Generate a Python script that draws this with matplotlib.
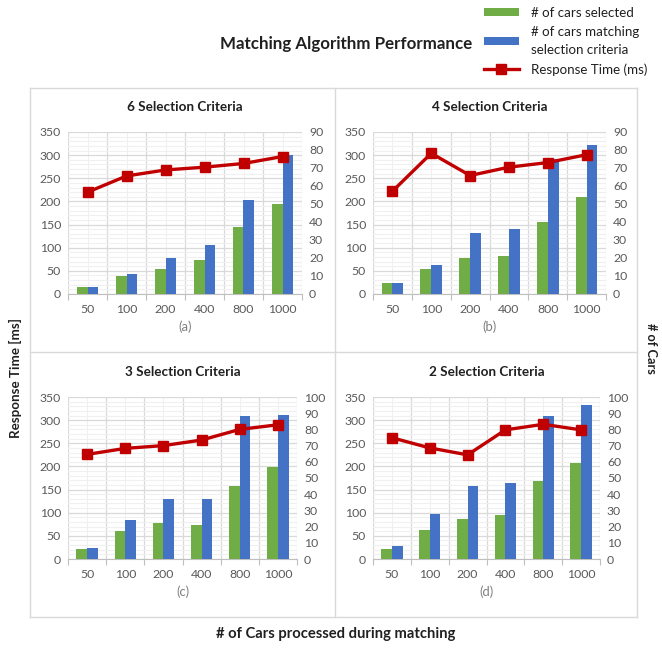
import matplotlib
matplotlib.use("Agg")
import matplotlib.pyplot as plt
import numpy as np
from matplotlib.ticker import FixedLocator, MultipleLocator
from matplotlib.lines import Line2D

plt.rcParams['font.family'] = ['Lato', 'DejaVu Sans']

cars = ['50', '100', '200', '400', '800', '1000']

# response time (ms) and car counts for each panel
resp_6 = [220, 255, 268, 274, 282, 297]
sel_6 = [4, 10, 14, 19, 37, 50]
match_6 = [4, 11, 20, 27, 52, 77]

resp_4 = [222, 304, 256, 274, 284, 301]
sel_4 = [6, 14, 20, 21, 40, 54]
match_4 = [6, 16, 34, 36, 75, 83]

resp_3 = [226, 239, 245, 257, 280, 290]
sel_3 = [6, 17, 22, 21, 45, 57]
match_3 = [7, 24, 37, 37, 88, 89]

resp_2 = [262, 240, 225, 279, 291, 279]
sel_2 = [6, 18, 25, 27, 48, 59]
match_2 = [8, 28, 45, 47, 88, 95]

GREEN = '#70AD47'
BLUE = '#4472C4'
RED = '#C00000'
TXT = '#595959'

W, H = 662, 650
fig = plt.figure(figsize=(W / 100, H / 100), dpi=100)


def box(x0, y0, x1, y1):
    # pixel box -> figure fraction [left, bottom, width, height]
    return [x0 / W, 1 - y1 / H, (x1 - x0) / W, (y1 - y0) / H]


def panel(rect, title, tag, resp, sel, match, rmax):
    ax = fig.add_axes(rect)
    x = np.arange(len(cars))
    ax.set_xlim(-0.5, len(cars) - 0.5)
    ax.set_ylim(0, 350)
    ax.yaxis.set_major_locator(MultipleLocator(50))
    ax.yaxis.set_minor_locator(MultipleLocator(10))
    ax.set_xticks(x)
    ax.set_xticklabels(cars)
    ax.xaxis.set_minor_locator(FixedLocator(np.arange(-0.5, len(cars), 1.0)))
    ax.grid(which='major', axis='y', color='#d9d9d9', lw=0.9)
    ax.grid(which='minor', axis='y', color='#f0f0f0', lw=0.8)
    ax.grid(which='minor', axis='x', color='#d9d9d9', lw=0.9)
    ax.grid(which='major', axis='x', color='#f0f0f0', lw=0.8)
    ax.set_axisbelow(True)
    ax.tick_params(axis='y', which='both', length=0, labelsize=8.8, labelcolor=TXT, pad=5)
    ax.tick_params(axis='x', which='major', length=0, labelsize=8.8, labelcolor=TXT, pad=7)
    ax.tick_params(axis='x', which='minor', length=4, color='#bfbfbf', width=0.8)
    for s in ['left', 'right', 'top']:
        ax.spines[s].set_visible(False)
    ax.spines['bottom'].set_color('#bfbfbf')
    ax.set_title(title, fontsize=9.7, fontweight='bold', color='#202020', pad=15)
    ax.set_xlabel(tag, fontsize=9.4, color='#7f7f7f', labelpad=4)

    ax2 = ax.twinx()
    w = 0.28
    ax2.bar(x - w / 2, sel, w, color=GREEN, label='# of cars selected')
    ax2.bar(x + w / 2, match, w, color=BLUE, label='# of cars matching\nselection criteria')
    ax2.set_ylim(0, rmax)
    ax2.yaxis.set_major_locator(MultipleLocator(10))
    ax2.tick_params(axis='y', length=0, labelsize=8.8, labelcolor=TXT, pad=5)
    for s in ax2.spines.values():
        s.set_visible(False)

    ax3 = ax.twinx()
    ax3.set_ylim(0, 350)
    ax3.plot(x, resp, color=RED, lw=2.4, marker='s', markersize=7,
             label='Response Time (ms)')
    ax3.axis('off')
    return ax2, ax3


ax2a, ax3a = panel(box(68, 132, 302, 294), '6 Selection Criteria', '(a)', resp_6, sel_6, match_6, 90)
panel(box(373, 132, 606, 294), '4 Selection Criteria', '(b)', resp_4, sel_4, match_4, 90)
panel(box(68, 397, 297, 559), '3 Selection Criteria', '(c)', resp_3, sel_3, match_3, 100)
panel(box(373, 397, 600, 559), '2 Selection Criteria', '(d)', resp_2, sel_2, match_2, 100)

# panel frames
gc = '#d9d9d9'
for (xa, ya, xb, yb) in [(30, 88, 637, 88), (30, 617, 637, 617), (30, 88, 30, 617),
                         (637, 88, 637, 617), (335, 88, 335, 617), (30, 352, 637, 352)]:
    fig.add_artist(Line2D([xa / W, xb / W], [1 - ya / H, 1 - yb / H], color=gc, lw=1.0))

fig.text(346 / W, 1 - 44 / H, 'Matching Algorithm Performance', fontsize=12.2,
         fontweight='bold', ha='center', va='center', color='#202020')
fig.text(15 / W, 1 - 378 / H, 'Response Time [ms]', fontsize=9.6, fontweight='bold',
         rotation=90, ha='center', va='center', color='#202020')
fig.text(651 / W, 1 - 348 / H, '# of Cars', fontsize=9.2, fontweight='bold',
         rotation=-90, ha='center', va='center', color='#202020')
fig.text(336 / W, 1 - 634 / H, '# of Cars processed during matching', fontsize=10.6,
         fontweight='bold', ha='center', va='center', color='#202020')

h2, l2 = ax2a.get_legend_handles_labels()
h3, l3 = ax3a.get_legend_handles_labels()
leg = fig.legend(h2 + h3, l2 + l3, loc='upper left', bbox_to_anchor=(472 / W, 1 + 5 / H),
                 frameon=False, fontsize=9.6, handlelength=2.6, handleheight=0.55,
                 labelspacing=0.55, handletextpad=0.9, labelcolor='#202020')
for t in leg.get_texts():
    t.set_linespacing(1.55)

fig.savefig('out.png', dpi=100)
